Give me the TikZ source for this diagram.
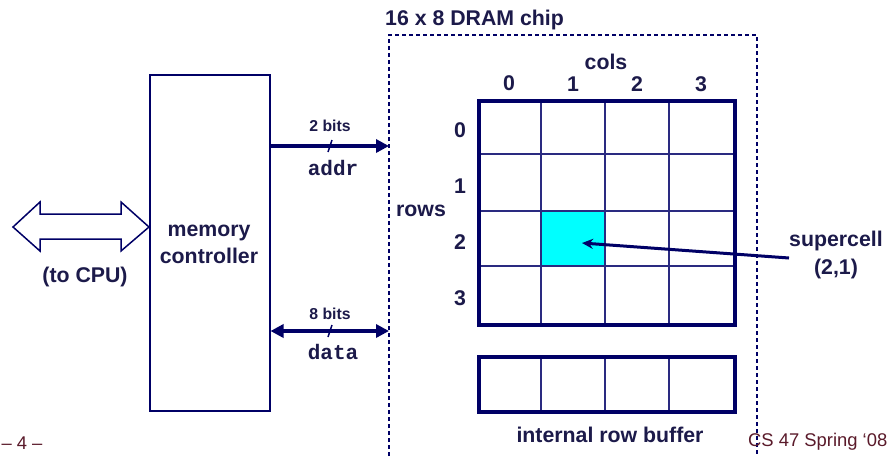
\documentclass[tikz,border=0pt]{standalone}
\usepackage{fontspec}
\setmainfont{Liberation Sans}
\setmonofont{Liberation Mono}
\usetikzlibrary{arrows.meta}
\definecolor{navy}{HTML}{000066}
\definecolor{txt}{HTML}{1C1A4A}
\definecolor{gridc}{HTML}{2A2A80}
\definecolor{maroon}{HTML}{5A1A2A}
\definecolor{cellcyan}{HTML}{00FFFF}
\tikzset{
  lbl/.style={text=txt,font=\fontsize{21.3}{25}\selectfont\bfseries,inner sep=0pt},
  small/.style={text=txt,font=\fontsize{15.8}{18}\selectfont\bfseries,inner sep=0pt},
  mono/.style={text=txt,font=\fontsize{21}{24}\selectfont\ttfamily\bfseries,inner sep=0pt},
  foot/.style={text=maroon,font=\fontsize{18.4}{22}\selectfont,inner sep=0pt},
  bus/.style={draw=navy,line width=3.5pt},
  tip/.style={-{Triangle[length=13pt,width=13pt]}},
  thin grid/.style={draw=gridc,line width=1.3pt},
  thick box/.style={draw=navy,line width=4pt},
}
\begin{document}
\begin{tikzpicture}[x=1pt,y=-1pt]
\useasboundingbox[fill=white] (0,0) rectangle (891,456);

% memory controller
\node[draw=navy,line width=1.5pt,minimum width=120pt,minimum height=336pt,inner sep=0pt,anchor=north west] (mc) at (149,74) {};
\node[lbl,align=center] (mclbl) at (209,244) {memory\\[2pt]controller};

% double arrow to CPU
\draw[draw=navy,line width=1.5pt,fill=white] (13,227) -- (40,202) -- (40,214) -- (121,214) -- (121,202) -- (149,227) -- (121,251) -- (121,239) -- (40,239) -- (40,251) -- cycle;
\node[lbl] (cpu) at (85,277) {(to CPU)};

% DRAM chip dashed box
\draw[draw=navy,line width=1.2pt,dash pattern=on 4pt off 3pt] (389,470) -- (389,35) -- (757,35) -- (757,470);
\node[lbl,anchor=west] (chip) at (385,20) {16 x 8 DRAM chip};

% bus endpoints
\coordinate (addrend) at (389,146);
\coordinate (addrstart) at (mc.east |- addrend);
\coordinate (dataend) at (389,331);
\coordinate (datastart) at (mc.east |- dataend);

\draw[bus,tip] (addrstart) -- (addrend);
\draw[bus,{Triangle[length=13pt,width=13pt]}-{Triangle[length=13pt,width=13pt]}] (datastart) -- (dataend);
\draw[navy,line width=1.5pt] (328,152) -- (332,140);
\draw[navy,line width=1.5pt] (328,337) -- (332,325);
\node[small] (b2) at (330,126) {2 bits};
\node[mono] (addr) at (333,168) {addr};
\node[small] (b8) at (330,314) {8 bits};
\node[mono] (data) at (333,352) {data};

% grid
\fill[cellcyan] (541,211) rectangle (605,266);
\foreach \x in {541,605,669} \draw[thin grid] (\x,99) -- (\x,323);
\foreach \y in {154,211,266} \draw[thin grid] (477,\y) -- (733,\y);
\node[thick box,minimum width=256pt,minimum height=224pt,inner sep=0pt,anchor=north west] (grid) at (477,99) {};

\node[lbl] (cols) at (606,62) {cols};
\node[lbl] (c0) at (509,83) {0};
\node[lbl] (c1) at (573,84) {1};
\node[lbl] (c2) at (637,84) {2};
\node[lbl] (c3) at (701,84) {3};
\node[lbl] (rows) at (421,211) {rows};
\node[lbl] (r0) at (460,130) {0};
\node[lbl] (r1) at (460,186) {1};
\node[lbl] (r2) at (460,242) {2};
\node[lbl] (r3) at (460,298) {3};

% row buffer
\foreach \x in {541,605,669} \draw[thin grid] (\x,355) -- (\x,410);
\node[thick box,minimum width=256pt,minimum height=55pt,inner sep=0pt,anchor=north west] (buf) at (477,355) {};
\node[lbl] (buflbl) at (610,435) {internal row buffer};

% supercell
\node[lbl,align=center] (sc) at (836,255) {supercell\\[3pt](2,1)};
\coordinate (scstart) at (789,258);
\coordinate (scend) at (582,243);
\draw[navy,line width=3pt,-{Stealth[length=11pt,width=10pt]}] (scstart) -- (scend);

% footers
\node[foot] (pg) at (22,443) {– 4 –};
\node[foot,anchor=west] (cs) at (748,442) {CS 47 Spring ‘08};
\end{tikzpicture}
\end{document}
